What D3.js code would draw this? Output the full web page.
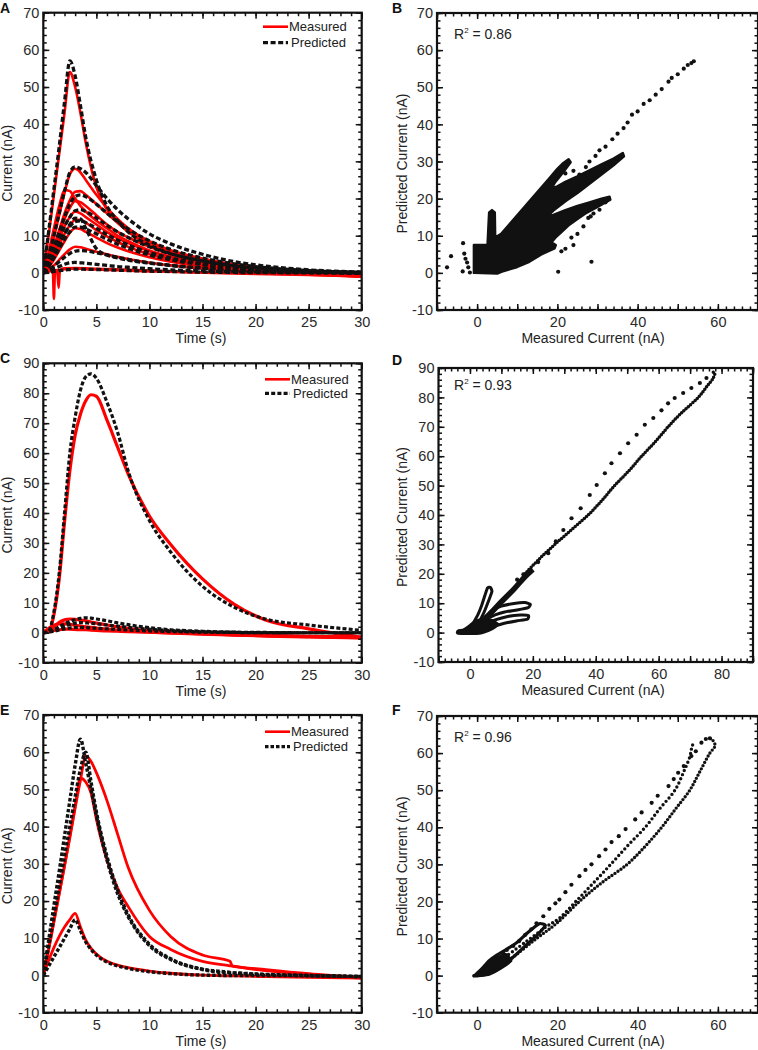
<!DOCTYPE html>
<html><head><meta charset="utf-8">
<script src="https://cdn.jsdelivr.net/npm/d3@7"></script>
<style>body{margin:0;background:#fff}svg{display:block}</style>
</head><body>
<svg id="chart" width="758" height="1050"></svg>
<script>
// ---------------- DATA ----------------
// shared time grids (s)
const T  = [0,0.5,1,1.5,2,2.5,3,3.5,4,5,6,7,8,10,12,15,18,21,25,30];
const TC = [0,0.5,1,1.5,2,2.5,3,3.5,4,4.5,5,6,7,8,10,12,15,18,21,25,30];
const TE = [0,0.5,1,1.5,2,2.5,3,3.5,4,4.5,5,6,7,8,10,12,15,17.6,17.8,21,25,30];
const tSpike = [0,0.5,0.9,1.0,1.1,1.3,1.45,1.55,1.7,2,3,5,8,12,16,20,25,30];

// Panel A measured (nA)
const mA1 = [0,10,21,32,43,54,50,43,35,23,17,13.5,11,7.5,5.5,3.5,2,1,0.2,-0.6];
const mA2 = [0,4,9.5,15.5,21.5,26.5,28,27,25,21,17.5,14.5,12,8.5,6,3.8,2.3,1.3,0.4,-0.6];
const mA3 = [0,5.5,12,18,22.3,22,20,18,16.5,14,12,10,8.5,6,4.3,2.6,1.4,0.7,0,-0.8];
const mA4 = [0,3,7,11.5,16,19.5,21.8,22,21,18.5,16,13.5,11.5,8.2,6,3.8,2.2,1.2,0.3,-0.7];
const mA5 = [0,3,6.5,10.5,14.5,17.5,19.3,19,18,15.5,13,11,9.5,7,5,3.2,1.9,1,0.2,-0.7];
const mA6 = [0,2.5,5.5,9,12.5,15,16.5,16,15,13,11,9.3,8,5.8,4.2,2.6,1.5,0.8,0,-0.8];
const mA7 = [0,2,4.5,7.5,10.5,12.8,14.2,14.3,13.5,11.5,9.8,8.3,7,5,3.6,2.2,1.2,0.6,-0.1,-0.9];
const mA8 = [0,1.5,3.5,6,8.5,10.8,12,11.8,11,9.5,8,6.8,5.8,4.2,3,1.8,1,0.4,-0.2,-1];
const mA9 = [0,1,2,3.5,5,6.3,7,6.9,6.5,5.7,5,4.3,3.7,2.7,2,1.2,0.6,0.2,-0.3,-1];
const mA10 = [0,0.3,0.6,0.8,1,1.1,1.2,1.1,1,0.9,0.8,0.7,0.6,0.4,0.3,0.1,0,-0.2,-0.5,-1];
const mSpike = [0,1,0.5,-7,0.3,0.5,-4,0.3,1,1.2,1.3,1.1,0.8,0.4,0,-0.3,-0.6,-1];
// Panel A predicted
const pA1 = [0,11,22.5,34,46,57,53,45,36.5,25,18,14,11,7.5,5.2,3.2,1.8,1,0.4,0];
const pA2 = [0,4.5,10,16,22,27,28.5,28,27,23.5,20,17,14.5,10.5,7.8,5,3,1.8,0.8,0.2];
const pA3 = [0,3,7,11,15,18.5,20.5,21,20.5,18.5,16,13.8,11.8,8.6,6.3,4,2.4,1.4,0.6,0.1];
const pA4 = [0,2.5,5.5,9,12.5,15,16.7,17,16.5,14.8,12.8,11,9.5,7,5.1,3.2,1.9,1.1,0.5,0.1];
const pA5 = [0,2,4.5,7.5,10.5,13,14.7,14.5,12,6.5,4.8,4,3.4,2.6,2,1.3,0.8,0.5,0.2,0];
const pA6 = [0,2,4.5,7.5,10.5,12.5,13.8,14,13.5,12,10.3,8.8,7.5,5.5,4,2.5,1.5,0.9,0.4,0.1];
const pA7 = [0,1.8,4,6.5,9,11,12.3,12.3,11.8,10.5,9,7.7,6.6,4.8,3.5,2.2,1.3,0.8,0.3,0];
const pA8 = [0,0.8,1.8,3,4.2,5.2,5.8,6,5.9,5.4,4.8,4.2,3.6,2.7,2,1.2,0.7,0.4,0.1,0];
const pA9 = [0,0.5,1.1,1.7,2.3,2.7,2.8,2.7,2.6,2.3,2,1.7,1.5,1.1,0.8,0.5,0.3,0.2,0.1,0];
const pA10 = [0,0.2,0.4,0.6,0.8,0.9,1,1,0.95,0.9,0.8,0.7,0.6,0.45,0.35,0.2,0.1,0.05,0,0];

// Panel C
const mC1 = [0,0.3,6,18,37,54,66,73,77.5,79.5,79,71,62,53,39,29.5,18,9.5,4.2,1.3,-1.5];
const mC2 = [0,0.5,2,3.5,4.3,4.6,4.5,4.2,4,3.6,3.2,2.6,2,1.5,0.6,0.1,-0.3,-0.7,-1,-1.3,-1.6];
const mC3 = [0,1.5,2.5,3,3,2.8,2.5,2.2,2,1.8,1.6,1.2,0.9,0.6,0.2,-0.1,-0.5,-0.8,-1.1,-1.4,-1.7];
const mC4 = [0,0.4,0.8,1,1.2,1.2,1.1,1,1,0.9,0.8,0.6,0.5,0.4,0.2,0,-0.3,-0.6,-0.9,-1.2,-1.5];
const pC1 = [0,0.5,7,20,40,60,72,81,85.5,86.5,85,77,67,54,37.5,27,15.5,8.5,4.5,2.6,0.8];
const pC2 = [0,0.3,1,2,3,3.8,4.4,4.8,5,4.9,4.6,4,3.3,2.7,1.7,1,0.5,0.2,0.1,0,0];
const pC3 = [0,0.3,0.8,1.5,2.2,2.8,3.2,3.4,3.3,3.2,3,2.6,2.2,1.8,1.2,0.7,0.3,0.1,0,0,0];
const pC4 = [0,0.2,0.5,0.9,1.3,1.6,1.8,1.8,1.7,1.6,1.5,1.3,1.1,0.9,0.6,0.4,0.2,0.1,0,0,0];

// Panel E
const mE1 = [0,7,14.5,22,29.5,37,45,52.5,59,57.5,54.5,47,38,29,17.5,10.5,5.5,3.8,2.6,1.6,0.5,-0.5];
const mE2 = [0,7,14.5,22,29.5,37.5,45.5,53,52,49,42,31,23.5,18.5,10.5,7,3.8,2.6,2.5,1.3,0.3,-0.7];
const mE3 = [0,4,7.5,10.5,13,15,16.7,13,9.5,7.3,5.8,3.8,2.8,2.1,1.2,0.6,0.1,-0.1,-0.1,-0.3,-0.5,-0.7];
const pE1 = [0,9.4,18.8,28,37.5,47,56.5,63.5,57,50,43,31,22,15.8,8,4.3,1.6,0.7,0.7,0.2,0,-0.3];
const pE2 = [0,8,16,24,32,40,48,55.5,60,52,44,32,23,16.3,8.4,4.5,1.7,0.8,0.7,0.3,0,-0.3];
const pE3 = [0,2.5,5,7.5,10,12.5,15,12,9,7,5.5,3.6,2.6,1.9,1,0.5,0.1,0,0,0,-0.1,-0.3];

// Panel B scatter (measured, predicted)
const bBlob = [[-0.8,0],[-0.8,7.5],[2.6,7.5],[2.8,12],[3.0,16.3],[3.7,16.9],[4.4,16.3],[4.5,9.5],[6,10.5],[8,13],[10,15.5],[12,18],[14,20.5],[16,23],[18,25.5],[20,28],[21.5,29.6],[22.8,30.6],[23.3,29.8],[21.5,27.2],[19.5,24.5],[18.5,22.8],[20,23.3],[22,24.5],[25,26],[28,27.6],[31,29.2],[34,30.8],[36.3,32.3],[36.6,31.4],[34,29],[31,26.5],[28,24],[25,21.5],[22,19.3],[19,16.8],[17.5,15.2],[19,15.6],[22,16.9],[25,18],[28,19],[31,20],[33,20.5],[33.2,19.7],[30,17.8],[27,16],[25,14.5],[23,13],[21,11],[19.5,9.5],[18.5,8.2],[19.6,7.5],[19.3,6.6],[16,5],[13,3],[10,1.6],[6,0.3],[5,-0.2]];
const bRay = [[20,20],[21.5,21.5],[23,23.5],[24.5,25],[25.5,26.5],[27.1,28.5],[28,30],[29.5,31.5],[30.5,33],[32,34],[33.7,36],[35,37.5],[36.5,39],[37.5,40.5],[38.6,42.6],[40,43.5],[41.5,45.5],[43,46.5],[44.5,48],[46,49.5],[47.7,51.5],[48.5,52.5],[50,53.5],[51.5,55],[52.5,56],[53.4,56.5],[54,57]];
const bDots = [[-7.5,1.5],[-6.5,4.5],[-3.5,8],[-3.2,5.2],[-2.9,3.8],[-2.5,2.8],[-2.2,1.5],[-3.6,0.4],[-1.8,0.1],[20.2,0.3],[28.5,3],[24,7.5],[21,5.8],[22,6.5],[23.5,9.5],[25,10.5],[26.5,12.5],[27.7,14.8],[28.3,15.2],[24.5,15.2],[26,16.2],[25.5,24.5],[27,25.5],[24,27.5],[22,26.8],[29,16],[30.5,17],[32,19]];

// Panel D scatter
const dCore = [[-3.8,-0.3],[3,-0.3],[7,1.2],[9,2.8],[7,4.2],[4,4.5],[1.5,3.8],[0,2.5],[-2,1],[-3.8,0.6]];
const dBand = [[-2,0.3],[2,2.5],[6,6],[10,10.5],[14,14.8],[17.5,19],[20,21.5]];
const dLoopUp = [[1,3],[2.5,6],[3.8,9.5],[4.8,12.8],[5.6,15.2],[6.5,15.4],[7,14],[6,11],[4.5,7],[3,4]];
const dLoopRight = [[4,4],[7,7.5],[10,9],[14,9.9],[17.5,10.2],[19.2,9.6],[18.5,8.5],[15,7.7],[11,7],[8,6],[5,4.5]];
const dLoopLow = [[4,2.5],[8,4.3],[12,5.5],[16,6],[18.6,5.8],[18.3,4.6],[15,4],[11,3.2],[7,2],[4,1.2]];
const dLower = [[17.5,20],[22,25],[27,30],[32.3,35],[37.6,40],[42,45],[46,50],[50.5,55],[54.6,60],[59,65],[63,70],[67.5,75],[72.6,80],[75.5,84],[77.3,86.5],[77.8,88.3],[76.5,88.7]];
const dUpper = [[15,18],[17,19.8],[19,21.3],[21.7,24],[24.9,27],[27.3,31],[29.7,34.9],[32.3,38.9],[35.2,42.3],[38.1,46.8],[40.3,50.2],[42.9,54.2],[45,57.6],[47.7,61],[50.3,64.4],[53,67.3],[55.6,70.7],[58.3,73],[60.9,75.6],[63,78],[65.1,79.8],[67.8,81.5],[70.4,83.2],[73.1,84.9],[75.2,86.6]];

// Panel F scatter
const fCore = [[-0.8,-0.2],[3,0.3],[6,2],[8.5,4],[7,5.8],[4,4.2],[1.5,2],[0,0.5]];
const fCluster = [[-0.5,0],[3,0.8],[6,2.8],[9,5],[12,8],[15,11],[17,13.5],[15.5,14],[12.5,11.5],[10,9],[7.5,7.2],[5,5.6],[3,4],[1.5,2.2]];
const fLower = [[-0.8,0],[2,0.3],[5,1.8],[9,5],[14.8,10],[19.7,14],[25.5,20],[31,25],[37.4,30],[42,35],[46,40],[49.5,45],[53,50],[55.5,55],[58,60],[59.3,62],[58.5,63.7],[57.5,64]];
const fMiddle = [[7,5],[12,9],[17,13],[20.5,15.5],[24.6,20],[29,25],[33.3,30],[37.5,35],[41.9,40],[45.5,45],[49.3,50],[51.5,55],[53,59],[53.5,61.5],[54,63]];
const fUpper = [[2,2.5],[3.5,3.5],[5,5],[6.5,6],[7.4,6.9],[9,8],[10.5,9.3],[12,11],[13.5,12.5],[14.8,14.1],[16.5,16],[18,18],[19.5,19.5],[20.5,20.5],[22,22.5],[23.5,24.5],[25.5,26.8],[27,28.5],[28.5,30],[30.4,32.2],[32,34],[33.5,36],[35.3,37.6],[37,39.5],[39.4,42.1],[41,44],[43.5,46.6],[45,48.5],[47.7,51.1],[49,53],[50.1,54.7],[51.5,56.5],[53.4,59.2],[54.5,60.5],[55.9,62.8],[57,63.8],[58,64]];

// tick values / labels
const timeLabels = [0,5,10,15,20,25,30];
const timeMinor = d3.range(0,31,1);
const y70Labels = [-10,0,10,20,30,40,50,60,70];
const y70Minor = d3.range(-10,71,2);
const y90Labels = [-10,0,10,20,30,40,50,60,70,80,90];
const y90Minor = d3.range(-10,91,2);
const x70Labels = [0,20,40,60];
const x70Major = d3.range(-10,71,10);
const x90Labels = [0,20,40,60,80];
const x90Major = d3.range(-10,91,10);

const R2 = ["0.86","0.93","0.96"];

// ---------------- DRAWING ----------------
const FONT = '"Liberation Sans", Arial, Helvetica, sans-serif';
const svg = d3.select('#chart');
const defs = svg.append('defs');

function panel(o){
  const x = d3.scaleLinear().domain(o.xDomain).range([o.left,o.right]);
  const y = d3.scaleLinear().domain(o.yDomain).range([o.bottom,o.top]);
  const g = svg.append('g');
  defs.append('clipPath').attr('id','clip'+o.id).append('rect')
    .attr('x',o.left).attr('y',o.top).attr('width',o.right-o.left).attr('height',o.bottom-o.top);
  const plot = g.append('g').attr('clip-path',`url(#clip${o.id})`);
  const ax = g.append('g');
  const sides = [
    [d3.axisBottom, x, `translate(0,${o.bottom})`, true],
    [d3.axisTop, x, `translate(0,${o.top})`, true],
    [d3.axisLeft, y, `translate(${o.left},0)`, false],
    [d3.axisRight, y, `translate(${o.right},0)`, false]
  ];
  sides.forEach(([fn, sc, tr, isX]) => {
    [[isX?o.xMinor:o.yMinor, 3.5],[isX?o.xMajor:o.yMajor, 6]].forEach(([vals,len]) => {
      const a = ax.append('g').attr('transform',tr)
        .call(fn(sc).tickValues(vals).tickSizeInner(-len).tickSizeOuter(0).tickFormat(''));
      a.select('.domain').remove();
      a.selectAll('line').attr('stroke','#111').attr('stroke-width',1.5);
    });
  });
  const xl = ax.append('g').attr('transform',`translate(0,${o.bottom})`)
    .call(d3.axisBottom(x).tickValues(o.xLabels).tickSize(0).tickPadding(7).tickFormat(d=>String(d)));
  const yl = ax.append('g').attr('transform',`translate(${o.left},0)`)
    .call(d3.axisLeft(y).tickValues(o.yLabels).tickSize(0).tickPadding(4).tickFormat(d=>String(d)));
  [xl,yl].forEach(a=>{
    a.select('.domain').remove();
    a.attr('font-family',FONT).attr('font-size',14.5);
    a.selectAll('text').attr('fill','#2a2a2a');
  });
  g.append('rect').attr('x',o.left).attr('y',o.top).attr('width',o.right-o.left).attr('height',o.bottom-o.top)
    .attr('fill','none').attr('stroke','#111').attr('stroke-width',2.2);
  g.append('text').attr('x',o.xTitleX).attr('y',o.bottom+33).attr('text-anchor','middle')
    .attr('font-family',FONT).attr('font-size',14).attr('fill','#222').text(o.xTitle);
  g.append('text').attr('transform',`translate(${o.yTitleX},${(o.top+o.bottom)/2+2}) rotate(-90)`)
    .attr('text-anchor','middle').attr('font-family',FONT).attr('font-size',14).attr('fill','#222').text(o.yTitle);
  g.append('text').attr('x',o.letterX).attr('y',o.letterY).attr('font-family',FONT)
    .attr('font-weight','bold').attr('font-size',14).attr('fill','#111').text(o.id);
  return {x,y,plot,g};
}

function timeSeries(p, t, series, style){
  const line = d3.line().x((d,i)=>p.x(t[i])).y(d=>p.y(d)).curve(d3.curveMonotoneX);
  series.forEach(s=>{
    p.plot.append('path').attr('d',line(s)).attr('fill','none')
      .attr('stroke',style.color).attr('stroke-width',style.width)
      .attr('stroke-dasharray',style.dash||null).attr('stroke-linejoin','round');
  });
}

function legend(p, x0, yRed, yDash, dash){
  p.g.append('line').attr('x1',x0).attr('x2',x0+25).attr('y1',yRed).attr('y2',yRed)
    .attr('stroke','#ff0000').attr('stroke-width',2.6);
  p.g.append('line').attr('x1',x0).attr('x2',x0+25).attr('y1',yDash).attr('y2',yDash)
    .attr('stroke','#111').attr('stroke-width',3.2).attr('stroke-dasharray',dash);
  p.g.append('text').attr('x',x0+26).attr('y',yRed+4.5).attr('font-family',FONT).attr('font-size',13).attr('fill','#222').text('Measured');
  p.g.append('text').attr('x',x0+28).attr('y',yDash+4.5).attr('font-family',FONT).attr('font-size',13).attr('fill','#222').text('Predicted');
}

function r2(p, x0, yb, val){
  const t = p.g.append('text').attr('x',x0).attr('y',yb).attr('font-family',FONT).attr('font-size',14).attr('fill','#222');
  t.append('tspan').text('R');
  t.append('tspan').attr('font-size',8).attr('dy',-6).text('2');
  t.append('tspan').attr('dy',6).text(' = ' + val);
}

function scatterPts(p, pts, r){
  p.plot.selectAll(null).data(pts).enter().append('circle')
    .attr('cx',d=>p.x(d[0])).attr('cy',d=>p.y(d[1])).attr('r',r).attr('fill','#111');
}
function dotted(p, pts, gap, w){
  const line = d3.line().x(d=>p.x(d[0])).y(d=>p.y(d[1])).curve(d3.curveCatmullRom);
  p.plot.append('path').attr('d',line(pts)).attr('fill','none').attr('stroke','#111')
    .attr('stroke-width',w||3.2).attr('stroke-linecap','round').attr('stroke-dasharray','0,'+gap);
}
function solid(p, pts, w, closed, fill, linear){
  const curve = closed ? (linear ? d3.curveLinearClosed : d3.curveCardinalClosed.tension(0.5)) : d3.curveCatmullRom;
  const line = d3.line().x(d=>p.x(d[0])).y(d=>p.y(d[1])).curve(curve);
  p.plot.append('path').attr('d',line(pts)).attr('fill',fill||'none').attr('stroke','#111')
    .attr('stroke-width',w).attr('stroke-linejoin','round');
}

const leftBase = {xDomain:[0,30], xLabels:timeLabels, xMajor:timeLabels, xMinor:timeMinor, left:43.3, right:361.7, xTitle:'Time (s)', xTitleX:201, yTitle:'Current (nA)', yTitleX:11.5, letterX:0};
const rightBase = {left:437, right:758, xTitle:'Measured Current (nA)', xTitleX:593, yTitle:'Predicted Current (nA)', yTitleX:406.5, letterX:392};

// ---- A
const A = panel(Object.assign({}, leftBase, {id:'A', yDomain:[-10,70], yLabels:y70Labels, yMajor:y70Labels, yMinor:y70Minor, top:12.7, bottom:310, letterY:13.3}));
timeSeries(A, T, [mA10,mA9,mA8,mA7,mA6,mA5,mA4,mA3,mA2,mA1], {color:'#ff0000', width:2.6});
timeSeries(A, tSpike, [mSpike], {color:'#ff0000', width:2.6});
timeSeries(A, T, [pA10,pA9,pA8,pA7,pA6,pA5,pA4,pA3,pA2,pA1], {color:'#111', width:3.3, dash:'5,2.6'});
legend(A, 263, 26.7, 42.7, '5,2.6');

// ---- B
const B = panel(Object.assign({}, rightBase, {id:'B', xDomain:[-10,70], xLabels:x70Labels, xMajor:x70Major, xMinor:y70Minor, yDomain:[-10,70], yLabels:y70Labels, yMajor:y70Labels, yMinor:y70Minor, top:13, bottom:310, letterY:13}));
solid(B, bBlob, 2.5, true, '#111', true);
scatterPts(B, bRay, 2.1);
scatterPts(B, bDots, 2.1);
r2(B, 454, 38.5, R2[0]);

// ---- C
const C = panel(Object.assign({}, leftBase, {id:'C', yDomain:[-10,90], yLabels:y90Labels, yMajor:y90Labels, yMinor:y90Minor, top:363.3, bottom:662.7, letterY:363}));
timeSeries(C, TC, [mC4,mC3,mC2,mC1], {color:'#ff0000', width:3.2});
timeSeries(C, TC, [pC4,pC3,pC2,pC1], {color:'#111', width:3.2, dash:'4,2.2'});
legend(C, 265, 379.3, 393.3, '4,2.2');

// ---- D
const D = panel(Object.assign({}, rightBase, {id:'D', xDomain:[-10,90], xLabels:x90Labels, xMajor:x90Major, xMinor:y90Minor, yDomain:[-10,90], yLabels:y90Labels, yMajor:y90Labels, yMinor:y90Minor, left:438.5, right:753, top:368, bottom:662, letterY:365}));
solid(D, dCore, 2.5, true, '#111');
solid(D, dBand, 5.5, false);
solid(D, dLoopUp, 3, true);
solid(D, dLoopRight, 3, true);
solid(D, dLoopLow, 3, true);
dotted(D, dLower, 3, 3.5);
scatterPts(D, dUpper, 2.1);
r2(D, 454, 390, R2[1]);

// ---- E
const E = panel(Object.assign({}, leftBase, {id:'E', yDomain:[-10,70], yLabels:y70Labels, yMajor:y70Labels, yMinor:y70Minor, top:715, bottom:1012.7, letterY:715}));
timeSeries(E, TE, [mE3,mE2,mE1], {color:'#ff0000', width:2.8});
timeSeries(E, TE, [pE3,pE2,pE1], {color:'#111', width:3.4, dash:'3.5,2'});
legend(E, 265, 731.7, 746.7, '3.5,2');

// ---- F
const F = panel(Object.assign({}, rightBase, {id:'F', xDomain:[-10,70], xLabels:x70Labels, xMajor:x70Major, xMinor:y70Minor, yDomain:[-10,70], yLabels:y70Labels, yMajor:y70Labels, yMinor:y70Minor, top:716, bottom:1012.7, letterY:715}));
solid(F, fCore, 2.5, true, '#111');
solid(F, fCluster, 3.2, true);
dotted(F, fLower, 3.6, 3.4);
dotted(F, fMiddle, 4.5, 3.4);
scatterPts(F, fUpper, 2.1);
r2(F, 454, 741.5, R2[2]);
</script>
</body></html>
